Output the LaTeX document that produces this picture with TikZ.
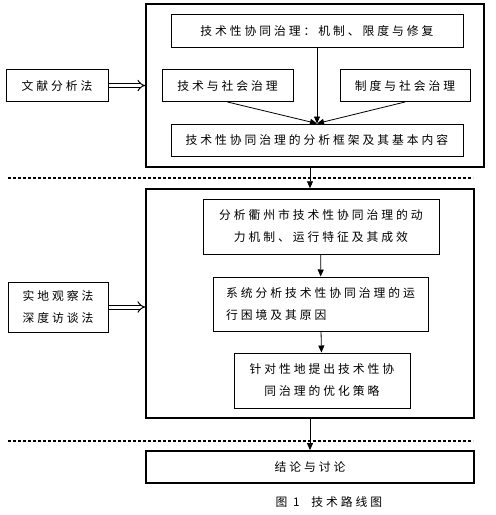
\documentclass[tikz,border=0pt]{standalone}
\usepackage{fontspec}
\newfontfamily\cjk[LetterSpace=25]{Noto Sans CJK SC}
\usetikzlibrary{positioning,arrows.meta}

\begin{document}
\begin{tikzpicture}[x=1pt,y=-1pt,
      bx/.style={draw,line width=1pt,inner sep=0pt,font=\cjk\fontsize{11.8}{22}\selectfont},
      outer/.style={draw,line width=1.5pt,inner sep=0pt},
      arr/.style={-{Triangle[length=7pt,width=6pt]},line width=.8pt},
      dbl/.style={double,double distance=3pt,line width=1pt,-{Implies[scale=1.5]}},
      sepline/.style={line width=1.5pt,dash pattern=on 3pt off 2pt}]
    \useasboundingbox (0,0) rectangle (496,515);
    % upper block: literature
    \node[outer,minimum width=338pt,minimum height=163pt] (theory) at (315,85.5) {};
    \node[bx,minimum width=292pt,minimum height=33pt] (mech) at (317,30.5) {技术性协同治理：机制、限度与修复};
    \node[bx,minimum width=131pt,minimum height=32pt] (tech) at (227.5,85.5) {技术与社会治理};
    \node[bx,minimum width=130pt,minimum height=32pt] (inst) at (405,85.5) {制度与社会治理};
    \node[bx,minimum width=292pt,minimum height=32pt] (frame) at (317,140) {技术性协同治理的分析框架及其基本内容};
    \node[bx,minimum width=102pt,minimum height=32pt] (lit) at (57,85.5) {文献分析法};
    \draw[arr] (mech) -- (frame);
    \draw[arr] (tech.south) -- (frame.north);
    \draw[arr] (inst.south) -- (frame.north);
    \draw[dbl] (lit) -- (theory);
    \draw[sepline] (8,178) -- (473,178);
    % middle block: field study
    \node[outer,minimum width=328pt,minimum height=229pt] (field) at (310,303.5) {};
    \node[bx,minimum width=236pt,minimum height=55pt,align=center] (dyn) at (321,226.5)
      {分析衢州市技术性协同治理的动\\力机制、运行特征及其成效};
    \node[bx,minimum width=215pt,minimum height=54pt,align=left] (dilem) at (320.5,304)
      {系统分析技术性协同治理的运\\行困境及其原因};
    \node[bx,minimum width=176pt,minimum height=55pt,align=center] (opt) at (322,380.5)
      {针对性地提出技术性协\\同治理的优化策略};
    \node[bx,minimum width=100pt,minimum height=50pt,align=center] (obs) at (58,307)
      {实地观察法\\深度访谈法};
    \draw[arr] (dyn) -- (dilem);
    \draw[arr] (dilem) -- (opt);
    \draw[dbl] (obs) -- (obs -| field.west);
    \draw[arr] (theory.south -| field.north) -- (field.north);
    \draw[sepline] (8,441) -- (473,441);
    % conclusion
    \node[bx,line width=1.8pt,minimum width=328pt,minimum height=32pt] (concl) at (310,467) {结论与讨论};
    \draw[arr] (field) -- (concl);
    \node[font=\cjk\fontsize{11.8}{13}\selectfont] (cap) at (329,502) {图 1\quad 技术路线图};
  \end{tikzpicture}
\end{document}
